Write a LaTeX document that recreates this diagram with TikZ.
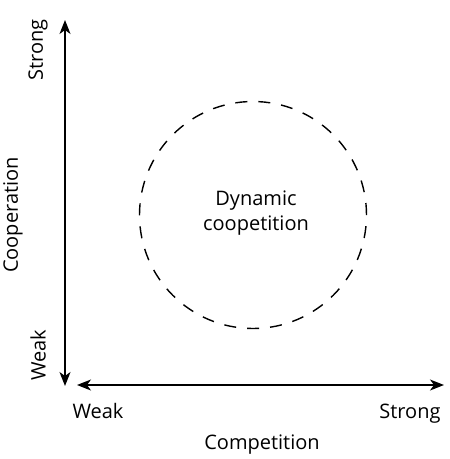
\documentclass[tikz,border=0pt]{standalone}
\usepackage{fontspec}
\setmainfont{Open Sans}
\usetikzlibrary{arrows.meta}
\begin{document}
\begin{tikzpicture}[x=1pt,y=-1pt,
  axis/.style={line width=1.3pt,-{Stealth[length=14pt,width=11pt,inset=4pt]}},
  lbl/.style={font=\fontsize{20}{24}\selectfont,inner sep=0pt},
  ring/.style={line width=1.4pt,dash pattern=on 12pt off 11pt}]
\useasboundingbox (0,0) rectangle (450,459);
\coordinate (T) at (65,20);
\coordinate (B) at (65,386);
\coordinate (L) at (77,385);
\coordinate (R) at (444,385);
\coordinate (M) at (65,200);
\coordinate (H) at (250,385);
\draw[axis] (M) -- (T);
\draw[axis] (M) -- (B);
\draw[axis] (H) -- (L);
\draw[axis] (H) -- (R);
\node[ring,draw,circle,minimum size=227pt,inner sep=0pt] (c) at (253,215) {};
\node[lbl,align=center,font=\fontsize{20}{25}\selectfont] (dc) at (256,213) {Dynamic\\coopetition};
\node[lbl,rotate=90] (ys) at (38,50) {Strong};
\node[lbl,rotate=90] (yw) at (38,355) {Weak};
\node[lbl,rotate=90] (yc) at (13,215) {Cooperation};
\node[lbl,anchor=base] (xw) at (98,418) {Weak};
\node[lbl,anchor=base] (xs) at (410,418) {Strong};
\node[lbl,anchor=base] (xc) at (262,449) {Competition};
\end{tikzpicture}
\end{document}
